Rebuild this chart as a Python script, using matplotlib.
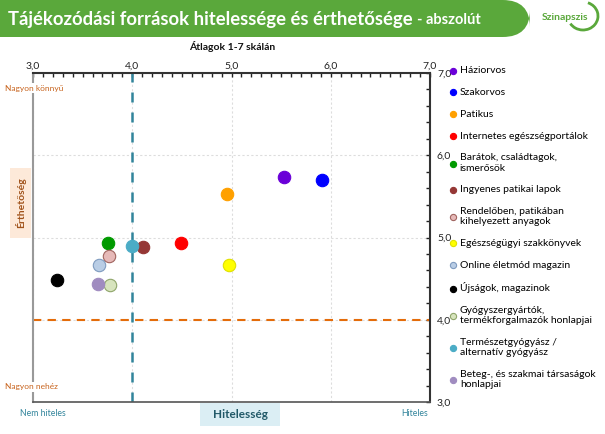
import numpy as np
import matplotlib
matplotlib.use('Agg')
import matplotlib.pyplot as plt
from matplotlib.patches import FancyBboxPatch, Rectangle, Arc
from matplotlib.ticker import MultipleLocator, FixedLocator, FixedFormatter

plt.rcParams['font.family'] = ['Lato', 'DejaVu Sans']

# data (x = Hitelesség, y = Érthetőség)
sources = ['Háziorvos', 'Szakorvos', 'Patikus', 'Internetes egészségportálok',
           'Barátok, családtagok,\nismerősök', 'Ingyenes patikai lapok',
           'Rendelőben, patikában\nkihelyezett anyagok', 'Egészségügyi szakkönyvek',
           'Online életmód magazin', 'Újságok, magazinok',
           'Gyógyszergyártók,\ntermékforgalmazók honlapjai',
           'Természetgyógyász /\nalternatív gyógyász',
           'Beteg-, és szakmai társaságok\nhonlapjai']
credibility = [5.53, 5.91, 4.95, 4.49, 3.76, 4.11, 3.77, 4.97, 3.66, 3.24, 3.78, 4.00, 3.65]
clarity = [5.73, 5.70, 5.53, 4.93, 4.93, 4.88, 4.78, 4.66, 4.66, 4.48, 4.42, 4.90, 4.44]
colors = ['#6a00d8', '#0000ff', '#ffa000', '#ff0000', '#009a00', '#953735', '#e6b9b8',
          '#ffff00', '#b9cde5', '#000000', '#d7e4bd', '#4bacc6', '#a08cc0']
edges = ['#6a00d8', '#0000ff', '#ffa000', '#ff0000', '#009a00', '#953735', '#a0645f',
         '#e0e000', '#7f9bbf', '#000000', '#8fa56a', '#4bacc6', '#a08cc0']
tick_vals = [3, 4, 5, 6, 7]
tick_labels = ['3,0', '4,0', '5,0', '6,0', '7,0']

W, H = 605, 434
fig = plt.figure(figsize=(W / 100, H / 100), dpi=100)

def fx(px):
    return px / W

def fy(py):
    return 1 - py / H

# title banner
fig.patches.append(FancyBboxPatch((fx(-40), fy(37)), fx(570), 37 / H,
                                  boxstyle='round,pad=0,rounding_size=0.045',
                                  transform=fig.transFigure, facecolor='#5aa83b',
                                  edgecolor='none', mutation_aspect=W / H))
title = fig.text(fx(8), fy(19), 'Tájékozódási források hitelessége és érthetősége',
                 color='white', fontsize=13.3, fontweight='bold', va='center')
fig.add_artist(plt.Annotation('- abszolút', xy=(1, 0.45), xycoords=title,
                              xytext=(3, 0), textcoords='offset points',
                              color='white', fontsize=10.5, fontweight='bold',
                              va='center', ha='left'))

# logo
fig.text(fx(565), fy(17), 'Szinapszis', color='#5aa83b', fontsize=7.5,
         fontweight='bold', ha='center', va='center')
fig.patches.append(Arc((fx(583), fy(16)), 30 / W, 28 / H, theta1=-140, theta2=75,
                       transform=fig.transFigure, color='#5aa83b', lw=2))

ax = fig.add_axes([fx(33), fy(402), fx(430) - fx(33), (402 - 73) / H])
for x, y, c, e, lab in zip(credibility, clarity, colors, edges, sources):
    ax.scatter(x, y, s=80, color=c, edgecolors=e, linewidths=0.8, zorder=3, label=lab)

ax.axvline(4, color='#31849b', lw=1.8, ls=(0, (4, 4)), zorder=2)
ax.axhline(4, color='#e46c0a', lw=1.5, ls=(0, (4, 3)), zorder=2)

ax.set_xlim(3, 7)
ax.set_ylim(3, 7)
ax.xaxis.set_major_locator(FixedLocator(tick_vals))
ax.xaxis.set_major_formatter(FixedFormatter(tick_labels))
ax.yaxis.set_major_locator(FixedLocator(tick_vals))
ax.yaxis.set_major_formatter(FixedFormatter(tick_labels))
ax.xaxis.set_minor_locator(MultipleLocator(0.1))
ax.yaxis.set_minor_locator(MultipleLocator(0.2))
ax.xaxis.tick_top()
ax.yaxis.tick_right()
ax.tick_params(axis='both', which='both', direction='in', length=3, width=1,
               color='#222222', labelsize=7.5, labelcolor='#222222')
ax.tick_params(axis='x', which='both', bottom=False, pad=1.5)
ax.tick_params(axis='y', which='both', left=False, pad=5)
ax.grid(True, which='major', color='#dddddd', ls=(0, (2, 2)), lw=0.8, zorder=0)
ax.spines['top'].set_color('#333333')
ax.spines['top'].set_linewidth(1.5)
ax.spines['right'].set_color('#333333')
ax.spines['right'].set_linewidth(1.5)
ax.spines['bottom'].set_color('#555555')
ax.spines['bottom'].set_linewidth(1.2)
ax.spines['left'].set_color('#999999')
ax.spines['left'].set_linewidth(1.5)

fig.legend(loc='upper left', bbox_to_anchor=(fx(450), fy(66)), frameon=False,
           fontsize=7.5, markerscale=0.5, handlelength=0.6, handletextpad=0.35,
           labelspacing=1.2, borderpad=0, borderaxespad=0)

# annotations
fig.text(fx(232), fy(46), 'Átlagok 1-7 skálán', fontsize=7.5, fontweight='bold',
         ha='center', va='center', color='#111111')
fig.text(fx(5), fy(88), 'Nagyon könnyű', fontsize=6, color='#c8641e', va='center',
         bbox=dict(facecolor='white', edgecolor='none', pad=1))
fig.text(fx(5), fy(387), 'Nagyon nehéz', fontsize=6, color='#c8641e', va='center',
         bbox=dict(facecolor='white', edgecolor='none', pad=1))
fig.patches.append(Rectangle((fx(10), fy(238)), fx(21), 70 / H, transform=fig.transFigure,
                             facecolor='#fde9d9', edgecolor='none'))
fig.text(fx(20.5), fy(203), 'Érthetőség', rotation=90, fontsize=7.5, fontweight='bold',
         color='#a0521a', ha='center', va='center')
fig.patches.append(Rectangle((fx(200), fy(426)), fx(80), 23 / H, transform=fig.transFigure,
                             facecolor='#dbeef4', edgecolor='none'))
fig.text(fx(240), fy(414), 'Hitelesség', fontsize=8.5, fontweight='bold',
         color='#215968', ha='center', va='center')
fig.text(fx(20), fy(414), 'Nem hiteles', fontsize=6.2, color='#31849b', va='center')
fig.text(fx(428), fy(414), 'Hiteles', fontsize=6.2, color='#31849b', va='center', ha='right')

fig.savefig('out.png', dpi=100)
